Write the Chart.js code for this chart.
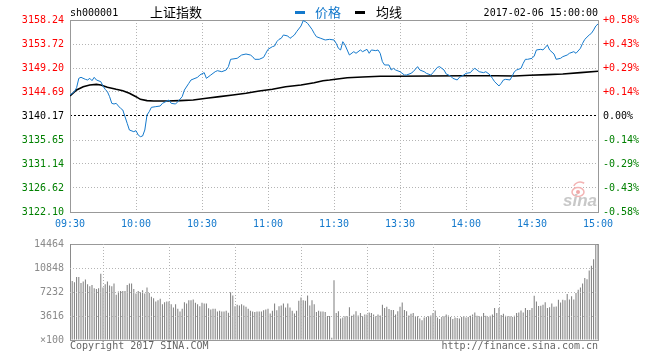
<!DOCTYPE html>
<html>
<head>
<meta charset="utf-8">
<script src="https://cdn.jsdelivr.net/npm/chart.js@4.4.1/dist/chart.umd.min.js"></script>
<style>
    html, body { margin: 0; padding: 0; background: #fff; }
    #wrap { position: relative; width: 660px; height: 360px; overflow: hidden; }
    #priceChart { position: absolute; left: 0; top: 0; }
    #volChart { position: absolute; left: 0; top: 232px; }
</style>
</head>
<body>
<div id="wrap">
    <canvas id="priceChart" width="660" height="232"></canvas>
    <canvas id="volChart" width="660" height="128"></canvas>
</div>
<script>
// ticks / labels
var timeLabels = ['09:30', '10:00', '10:30', '11:00', '11:30', '13:30', '14:00', '14:30', '15:00'];
var timeTicks = [0, 30, 60, 90, 120, 150, 180, 210, 240];
var prevClose = 3140.17;
var priceTicks = [3122.10, 3126.62, 3131.14, 3135.65, 3140.17, 3144.69, 3149.20, 3153.72, 3158.24];
var pctLabels = ['-0.58%', '-0.43%', '-0.29%', '-0.14%', '0.00%', '+0.14%', '+0.29%', '+0.43%', '+0.58%'];
var volTicks = [0, 3616, 7232, 10848, 14464];
var volLabels = ['×100', '3616', '7232', '10848', '14464'];

// price line (minute index from 09:30, value)
var priceMin = [
    0, 2, 3, 4, 5, 7, 8, 9, 10, 11,
    12, 14, 15, 16, 17, 18, 19, 20, 21, 22,
    23, 24, 25, 26, 27, 29, 30, 31, 32, 33,
    34, 35, 36, 37, 39, 41, 42, 45, 46, 48,
    49, 51, 52, 54, 55, 58, 59, 61, 62, 64,
    66, 67, 69, 71, 72, 73, 76, 78, 80, 82,
    83, 84, 86, 88, 89, 90, 92, 93, 94, 95,
    96, 97, 99, 100, 101, 102, 103, 105, 106, 107,
    108, 110, 111, 112, 114, 116, 118, 120, 121, 122,
    123, 124, 125, 126, 127, 129, 130, 132, 133, 135,
    136, 137, 139, 140, 141, 142, 143, 145, 146, 147,
    148, 150, 152, 153, 155, 156, 158, 159, 161, 162,
    164, 165, 167, 168, 170, 171, 173, 174, 176, 177,
    179, 180, 182, 183, 184, 185, 186, 188, 189, 191,
    192, 193, 195, 196, 197, 198, 200, 201, 202, 203,
    205, 206, 207, 208, 210, 211, 212, 214, 215, 217,
    218, 220, 221, 223, 224, 226, 227, 229, 230, 232,
    233, 234, 236, 237, 238, 239, 240
];
var priceVal = [
    3144.12, 3144.75, 3145.50, 3147.26, 3147.45, 3147.07, 3146.95, 3147.26, 3146.82, 3147.45,
    3146.95, 3146.63, 3145.82, 3145.19, 3144.75, 3143.81, 3142.55, 3142.43, 3142.55, 3142.05,
    3141.61, 3141.30, 3140.04, 3138.79, 3137.53, 3137.22, 3137.41, 3136.59, 3136.28, 3136.40,
    3137.53, 3140.36, 3140.98, 3141.80, 3141.93, 3142.05, 3142.55, 3143.18, 3142.55, 3142.43,
    3142.87, 3143.81, 3145.06, 3146.32, 3146.95, 3147.45, 3147.89, 3148.33, 3147.26, 3147.89,
    3148.51, 3148.70, 3148.51, 3148.83, 3149.46, 3150.84, 3151.03, 3151.65, 3151.84, 3151.65,
    3151.34, 3150.84, 3150.84, 3151.21, 3151.97, 3152.72, 3153.22, 3153.35, 3154.16, 3154.60,
    3154.79, 3155.42, 3155.23, 3154.79, 3155.10, 3155.42, 3156.04, 3157.11, 3158.12, 3157.93,
    3157.61, 3156.48, 3155.73, 3155.10, 3154.79, 3154.48, 3154.60, 3154.48, 3153.85, 3152.91,
    3152.60, 3154.16, 3153.53, 3152.60, 3151.65, 3152.28, 3151.97, 3152.60, 3152.28, 3152.72,
    3151.97, 3152.60, 3152.47, 3152.60, 3151.97, 3150.40, 3149.77, 3149.77, 3148.83, 3149.14,
    3148.83, 3148.51, 3147.89, 3147.89, 3148.20, 3148.51, 3149.46, 3148.83, 3148.51, 3148.20,
    3147.89, 3148.33, 3149.33, 3149.46, 3148.83, 3148.08, 3147.70, 3147.26, 3146.95, 3147.45,
    3147.89, 3148.20, 3148.33, 3148.83, 3149.14, 3148.83, 3148.51, 3148.33, 3148.51, 3147.89,
    3147.26, 3146.63, 3145.82, 3146.32, 3146.95, 3147.07, 3146.95, 3147.70, 3148.51, 3148.83,
    3149.14, 3150.08, 3150.84, 3150.84, 3151.03, 3151.46, 3152.60, 3152.72, 3152.60, 3153.53,
    3152.60, 3151.84, 3150.84, 3151.03, 3151.34, 3151.65, 3151.97, 3152.28, 3151.97, 3152.91,
    3153.85, 3154.60, 3155.42, 3155.73, 3156.36, 3157.11, 3157.49
];

// 均线
var avgMin = [0, 3, 6, 9, 12, 14, 17, 21, 24, 27, 30, 32, 35, 38, 44, 50, 56, 62, 68, 74,
    80, 86, 92, 98, 105, 111, 115, 118, 126, 133, 141, 148, 164, 179, 194, 202, 209, 217, 224, 232, 240];
var avgVal = [3143.93, 3145.06, 3145.69, 3146.00, 3146.13, 3146.00, 3145.57, 3145.19, 3144.94, 3144.44,
    3143.81, 3143.31, 3143.06, 3142.99, 3142.99, 3143.06, 3143.18, 3143.50, 3143.81, 3144.12,
    3144.44, 3144.88, 3145.19, 3145.69, 3146.00, 3146.44, 3146.82, 3146.95, 3147.38, 3147.51,
    3147.64, 3147.64, 3147.70, 3147.76, 3147.76, 3147.70, 3147.83, 3147.95, 3148.08, 3148.33, 3148.58];

// volume per minute (x100)
var volume = [
    14464, 8900, 8700, 9500, 9500, 8600, 8800, 9100, 8400, 8100,
    8300, 7800, 7700, 7800, 10000, 7900, 8400, 8800, 8200, 8100,
    8500, 6800, 7300, 7400, 7400, 7400, 8300, 8500, 8500, 7700,
    7000, 7400, 7200, 7500, 7000, 7900, 7100, 6500, 6300, 5800,
    6000, 6200, 5400, 5700, 5800, 5800, 5400, 4900, 5400, 4700,
    4300, 4700, 5700, 5500, 6000, 6000, 6100, 5600, 5400, 5100,
    5600, 5500, 5500, 4800, 4600, 4700, 4700, 4300, 4400, 4300,
    4300, 4400, 4100, 7200, 6700, 5100, 5300, 5200, 5400, 5200,
    5000, 4700, 4400, 4300, 4200, 4300, 4300, 4300, 4500, 4600,
    4700, 4000, 4400, 5500, 4500, 5100, 5200, 5500, 4900, 5500,
    4900, 4400, 4000, 4400, 5900, 6400, 6000, 5900, 6700, 5200,
    6000, 5400, 4200, 4400, 4300, 4300, 4200, 3600, 3600, 340,
    9000,
    4050, 4340, 3230, 3380, 3570, 3570, 4920, 3660, 3860, 4340,
    3710, 4050, 3570, 3860, 3860, 4150, 4050, 3860, 3570, 3860,
    3710, 5300, 4820, 5010, 4680, 4530, 4530, 3860, 4340, 5010,
    5640, 4530, 4340, 3710, 3950, 4050, 3570, 3570, 3230, 2990,
    3380, 3470, 3570, 3710, 4050, 4440, 3380, 3180, 3470, 3570,
    3860, 3710, 3470, 3180, 3380, 3330, 3230, 3470, 3620, 3380,
    3470, 3660, 3860, 4150, 3660, 3570, 3470, 4050, 3660, 3470,
    3660, 3860, 4820, 4050, 4820, 3760, 3950, 3660, 3570, 3570,
    3470, 3660, 4050, 4150, 4440, 4150, 4820, 4530, 4530, 4820,
    6650, 5790, 5110, 5160, 5300, 5690, 4820, 4920, 5500, 5010,
    5060, 6070, 5640, 6070, 5980, 6940, 6120, 6600, 6120, 7090,
    7570, 7910, 8530, 9350, 9160, 10460, 11190, 12150, 14320, 14464
];

var blue = '#1479cc';
var gridGray = '#b4b4b4';
var monoFont = { family: 'DejaVu Sans Mono', size: 10 };

function toPoints(xs, ys) {
    var pts = [];
    for (var i = 0; i < xs.length; i++) pts.push({ x: xs[i], y: ys[i] });
    return pts;
}

function setTicks(list) {
    return function (scale) {
        scale.ticks = list.map(function (v) { return { value: v }; });
    };
}

function priceColor(ctx) {
    var v = ctx.tick.value;
    if (Math.abs(v - prevClose) < 0.001) return '#000';
    return v > prevClose ? '#f00' : '#008000';
}

function isEdge(ctx, lo, hi) {
    return ctx.tick && (ctx.tick.value === lo || ctx.tick.value === hi);
}

// gray frame round the plot area
var frame = {
    id: 'frame',
    beforeDatasetsDraw: function (chart) {
        var a = chart.chartArea, c = chart.ctx;
        c.save();
        c.strokeStyle = '#999';
        c.lineWidth = 1;
        c.strokeRect(Math.round(a.left) + 0.5, Math.round(a.top) + 0.5,
            Math.round(a.right - a.left), Math.round(a.bottom - a.top));
        c.restore();
    }
};

var header = {
    id: 'header',
    beforeDatasetsDraw: function (chart) {
        var c = chart.ctx;
        c.save();
        // sina watermark
        c.strokeStyle = '#f3b3b3';
        c.fillStyle = '#f0a8a8';
        c.lineWidth = 1.5;
        c.beginPath();
        c.ellipse(578, 192, 6, 4.5, 0, 0, Math.PI * 2);
        c.stroke();
        c.beginPath();
        c.arc(578, 192, 2, 0, Math.PI * 2);
        c.fill();
        c.beginPath();
        c.arc(580, 189, 7, Math.PI * 1.15, Math.PI * 1.7);
        c.stroke();
        c.font = 'italic bold 17px "Liberation Sans"';
        c.fillStyle = '#c8c8c8';
        c.textBaseline = 'alphabetic';
        c.fillText('sina', 563, 206);
        c.restore();
    },
    afterDraw: function (chart) {
        var c = chart.ctx;
        c.save();
        c.textBaseline = 'middle';
        c.font = '10px "DejaVu Sans Mono"';
        c.fillStyle = '#000';
        c.textAlign = 'left';
        c.fillText('sh000001', 70, 13);
        c.textAlign = 'right';
        c.fillText('2017-02-06 15:00:00', 598, 13);
        c.textAlign = 'left';
        c.font = '13px "Noto Sans CJK SC"';
        c.fillText('上证指数', 150, 12);
        c.fillStyle = blue;
        c.fillRect(295, 11, 10, 3);
        c.fillText('价格', 315, 12);
        c.fillStyle = '#000';
        c.fillRect(355, 11, 10, 3);
        c.fillText('均线', 376, 12);
        c.restore();
    }
};

var footer = {
    id: 'footer',
    afterDraw: function (chart) {
        var c = chart.ctx;
        c.save();
        c.font = '10px "DejaVu Sans Mono"';
        c.fillStyle = '#666';
        c.textBaseline = 'middle';
        c.textAlign = 'left';
        c.fillText('Copyright 2017 SINA.COM', 70, 114);
        c.textAlign = 'right';
        c.fillText('http://finance.sina.com.cn', 598, 114);
        c.restore();
    }
};

new Chart(document.getElementById('priceChart'), {
    type: 'line',
    data: {
        datasets: [
            { data: toPoints(priceMin, priceVal), borderColor: blue, borderWidth: 1, pointRadius: 0, tension: 0 },
            { data: toPoints(avgMin, avgVal), borderColor: '#000', borderWidth: 1.6, pointRadius: 0, tension: 0 }
        ]
    },
    options: {
        responsive: false,
        animation: false,
        layout: { padding: { top: 20, left: 0, right: 0, bottom: 0 }, autoPadding: false },
        plugins: { legend: { display: false }, tooltip: { enabled: false } },
        scales: {
            x: {
                type: 'linear', min: 0, max: 240, offset: false,
                afterBuildTicks: setTicks(timeTicks),
                afterFit: function (s) { s.height = 20; },
                ticks: {
                    color: blue, font: monoFont, padding: 6, maxRotation: 0, autoSkip: false,
                    callback: function (v, i) { return timeLabels[i]; }
                },
                grid: {
                    drawTicks: false,
                    color: function (ctx) { return isEdge(ctx, 0, 240) ? 'rgba(0,0,0,0)' : gridGray; }
                },
                border: { display: false, dash: [1, 2] }
            },
            y: {
                position: 'left', min: priceTicks[0], max: priceTicks[priceTicks.length - 1],
                afterBuildTicks: setTicks(priceTicks),
                afterFit: function (s) { s.width = 70; },
                ticks: {
                    color: priceColor, font: monoFont, padding: 6, autoSkip: false,
                    callback: function (v, i) { return priceTicks[i].toFixed(2); }
                },
                grid: {
                    drawTicks: false,
                    color: function (ctx) {
                        if (isEdge(ctx, priceTicks[0], priceTicks[8])) return 'rgba(0,0,0,0)';
                        return Math.abs(ctx.tick.value - prevClose) < 0.001 ? '#000' : gridGray;
                    }
                },
                border: {
                    display: false,
                    dash: function (ctx) {
                        return ctx.tick && Math.abs(ctx.tick.value - prevClose) < 0.001 ? [2, 2] : [1, 2];
                    }
                }
            },
            y1: {
                position: 'right', min: priceTicks[0], max: priceTicks[priceTicks.length - 1],
                afterBuildTicks: setTicks(priceTicks),
                afterFit: function (s) { s.width = 62; },
                ticks: {
                    color: priceColor, font: monoFont, padding: 5, autoSkip: false,
                    callback: function (v, i) { return pctLabels[i]; }
                },
                grid: { drawOnChartArea: false, drawTicks: false },
                border: { display: false }
            }
        }
    },
    plugins: [frame, header]
});

new Chart(document.getElementById('volChart'), {
    type: 'bar',
    data: {
        datasets: [{
            data: volume.map(function (v, i) { return { x: i, y: v }; }),
            backgroundColor: '#7c7c7c',
            borderWidth: 0,
            barThickness: 1,
            inflateAmount: 0
        }]
    },
    options: {
        responsive: false,
        animation: false,
        layout: { padding: { top: 8, left: 0, right: 62, bottom: 0 }, autoPadding: false },
        plugins: { legend: { display: false }, tooltip: { enabled: false } },
        scales: {
            x: {
                type: 'linear', min: 0, max: 240, offset: false,
                afterBuildTicks: setTicks(timeTicks),
                afterFit: function (s) { s.height = 20; },
                ticks: { display: false },
                grid: {
                    drawTicks: false, z: 1,
                    color: function (ctx) { return isEdge(ctx, 0, 240) ? 'rgba(0,0,0,0)' : gridGray; }
                },
                border: { display: false, dash: [1, 2] }
            },
            y: {
                min: 0, max: volTicks[volTicks.length - 1],
                afterBuildTicks: setTicks(volTicks),
                afterFit: function (s) { s.width = 70; },
                ticks: {
                    color: '#8a8a8a', font: monoFont, padding: 6, autoSkip: false,
                    callback: function (v, i) { return volLabels[i]; }
                },
                grid: {
                    drawTicks: false, z: 1,
                    color: function (ctx) { return isEdge(ctx, 0, volTicks[4]) ? 'rgba(0,0,0,0)' : gridGray; }
                },
                border: { display: false, dash: [1, 2] }
            }
        }
    },
    plugins: [frame, footer]
});
</script>
</body>
</html>
